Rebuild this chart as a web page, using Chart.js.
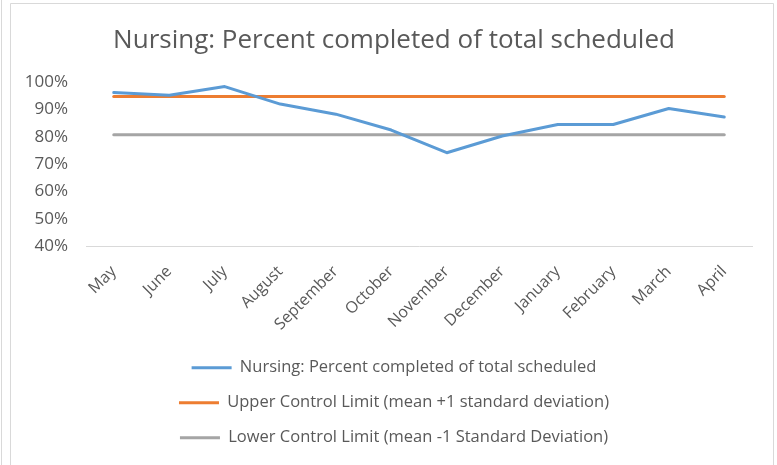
<!DOCTYPE html>
<html>
<head>
<meta charset="utf-8">
<script src="https://cdn.jsdelivr.net/npm/chart.js@4.4.1/dist/chart.umd.min.js"></script>
<style>
  html, body { margin: 0; padding: 0; background: #ffffff; }
  #wrap { width: 777px; height: 465px; position: relative; }
</style>
</head>
<body>
<div id="wrap"><canvas id="c" width="777" height="465"></canvas></div>
<script>
const months = ['May','June','July','August','September','October','November','December','January','February','March','April'];
const nursing = [96.2, 95.2, 98.4, 92.0, 88.3, 82.5, 74.2, 80.3, 84.5, 84.5, 90.4, 87.3];
const upperLimit = [94.8, 94.8, 94.8, 94.8, 94.8, 94.8, 94.8, 94.8, 94.8, 94.8, 94.8, 94.8];
const lowerLimit = [80.8, 80.8, 80.8, 80.8, 80.8, 80.8, 80.8, 80.8, 80.8, 80.8, 80.8, 80.8];
const seriesNames = [
  'Nursing: Percent completed of total scheduled',
  'Upper Control Limit (mean +1 standard deviation)',
  'Lower Control Limit (mean -1 Standard Deviation)'
];
const yMin = 40, yMax = 100, yStep = 10;

const FONT = "'Open Sans', 'Liberation Sans', sans-serif";
const TXT = '#595959';

const frame = {
  id: 'frame',
  beforeDraw(chart) {
    const ctx = chart.ctx;
    ctx.save();
    ctx.fillStyle = '#ffffff';
    ctx.fillRect(0, 0, chart.width, chart.height);
    ctx.strokeStyle = '#d9d9d9';
    ctx.lineWidth = 1;
    ctx.beginPath();
    ctx.moveTo(10.5, 470); ctx.lineTo(10.5, 3.5); ctx.lineTo(773.5, 3.5); ctx.lineTo(773.5, 470);
    ctx.moveTo(1.5, 0); ctx.lineTo(1.5, 465);
    ctx.stroke();
    ctx.restore();
  }
};

function mk(label, data, color) {
  return {
    label, data,
    borderColor: color, backgroundColor: color,
    borderWidth: 3, pointRadius: 0, pointHoverRadius: 0,
    tension: 0, fill: false, borderCapStyle: 'round', borderJoinStyle: 'round'
  };
}

new Chart(document.getElementById('c'), {
  type: 'line',
  data: {
    labels: months,
    datasets: [
      mk(seriesNames[0], nursing, '#5B9BD5'),
      mk(seriesNames[1], upperLimit, '#ED7D31'),
      mk(seriesNames[2], lowerLimit, '#A5A5A5')
    ]
  },
  plugins: [frame],
  options: {
    responsive: false,
    animation: false,
    layout: { padding: { left: 22, right: 11, top: 0, bottom: 9 } },
    plugins: {
      title: {
        display: true,
        text: 'Nursing: Percent completed of total scheduled',
        color: TXT,
        font: { family: FONT, size: 26, weight: 'normal' },
        padding: { top: 25, bottom: 26 }
      },
      legend: {
        display: true,
        position: 'bottom',
        labels: {
          color: TXT,
          font: { family: FONT, size: 16.5 },
          boxWidth: 40,
          boxHeight: 3,
          padding: 18.5,
          generateLabels(chart) {
            return chart.data.datasets.map((ds, i) => ({
              text: ds.label,
              fillStyle: ds.borderColor,
              strokeStyle: ds.borderColor,
              lineWidth: 0,
              hidden: false,
              datasetIndex: i,
              fontColor: TXT
            }));
          }
        }
      },
      tooltip: { enabled: false }
    },
    scales: {
      x: {
        offset: true,
        grid: { display: false, drawTicks: false },
        border: { display: true, color: '#d9d9d9', width: 1, dash: [3, 1] },
        ticks: {
          color: TXT,
          font: { family: FONT, size: 16 },
          minRotation: 45, maxRotation: 45,
          padding: 16,
          autoSkip: false
        },
        afterFit(axis) { axis.height -= 9; }
      },
      y: {
        min: yMin, max: yMax,
        grid: { display: false, drawTicks: false },
        border: { display: false },
        ticks: {
          stepSize: yStep,
          color: TXT,
          font: { family: FONT, size: 17 },
          padding: 18,
          callback: v => v + '%'
        },
        afterFit(axis) { axis.width = 64; }
      },
      yRight: {
        position: 'right',
        display: true,
        grid: { display: false, drawTicks: false },
        border: { display: false },
        ticks: { display: false },
        afterFit(axis) { axis.width = 14; }
      }
    }
  }
});
</script>
</body>
</html>
